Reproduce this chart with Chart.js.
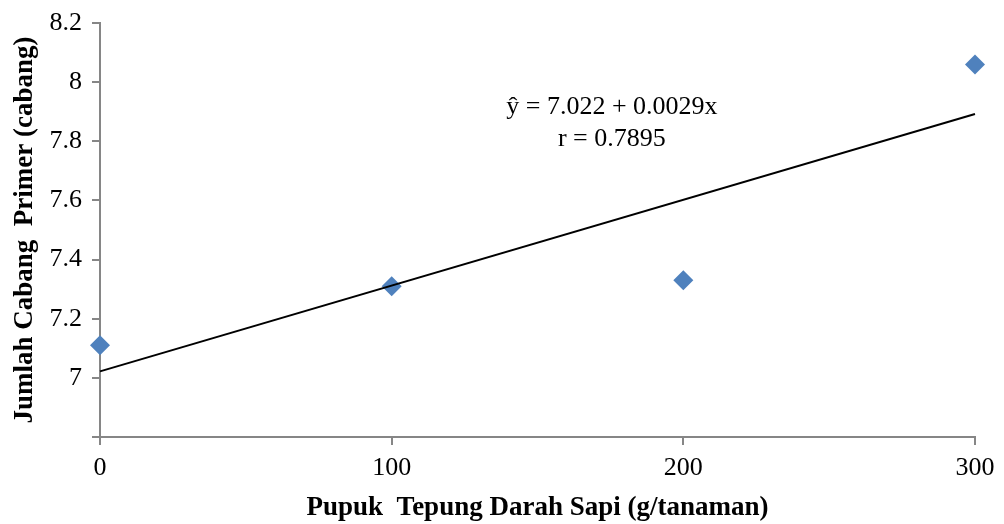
<!DOCTYPE html>
<html>
<head>
    <meta charset="utf-8">
    <title>Pupuk Tepung Darah Sapi</title>
    <script src="https://cdn.jsdelivr.net/npm/chart.js@4.4.0/dist/chart.umd.min.js"></script>
    <style>
        html, body { margin: 0; padding: 0; background: #fff; }
        #wrap { width: 1004px; height: 524px; }
    </style>
</head>
<body>
<div id="wrap"><canvas id="chart" width="1004" height="524"></canvas></div>
<script>
    // dosis pupuk (g/tanaman) dan rata-rata jumlah cabang primer
    var dosis = [0, 100, 200, 300];
    var cabang = [7.11, 7.31, 7.33, 8.06];

    // persamaan regresi
    var intercept = 7.022;
    var slope = 0.0029;
    var rValue = 0.7895;

    var yTicks = [6.8, 7, 7.2, 7.4, 7.6, 7.8, 8, 8.2];

    var axisGray = '#868686';
    var serif = "'Liberation Serif', 'Times New Roman', serif";

    var points = dosis.map(function (d, i) { return { x: d, y: cabang[i] }; });
    var trend = [0, 300].map(function (d) { return { x: d, y: intercept + slope * d }; });

    // teks persamaan di atas garis regresi
    var equationText = {
        id: 'equationText',
        afterDatasetsDraw: function (chart) {
            var ctx = chart.ctx;
            var xs = chart.scales.x, ys = chart.scales.y;
            var cx = xs.getPixelForValue(175.5);
            var cy = ys.getPixelForValue(7.914);
            ctx.save();
            ctx.fillStyle = '#000';
            ctx.font = '26px ' + serif;
            ctx.textAlign = 'center';
            ctx.textBaseline = 'middle';
            ctx.fillText('ŷ = ' + intercept.toFixed(3) + ' + ' + slope + 'x', cx, cy);
            ctx.fillText('r = ' + rValue, cx, cy + 32);
            ctx.restore();
        }
    };

    new Chart(document.getElementById('chart'), {
        type: 'scatter',
        data: {
            datasets: [{
                type: 'line',
                data: trend,
                borderColor: '#000',
                borderWidth: 2,
                pointRadius: 0,
                fill: false,
                clip: false
            }, {
                data: points,
                pointStyle: 'rectRot',
                pointRadius: 10,
                pointHoverRadius: 10,
                backgroundColor: '#4F81BD',
                borderColor: '#4F81BD',
                borderWidth: 0,
                clip: false
            }]
        },
        options: {
            responsive: false,
            animation: false,
            layout: { padding: { top: 20, right: 29, left: 0, bottom: 0 } },
            plugins: {
                legend: { display: false },
                tooltip: { enabled: false }
            },
            scales: {
                x: {
                    type: 'linear',
                    min: 0,
                    max: 300,
                    afterFit: function (scale) { scale.height = 87; },
                    border: { color: axisGray, width: 2 },
                    grid: { drawOnChartArea: false, drawTicks: true, tickLength: 8, color: axisGray, lineWidth: 2 },
                    ticks: {
                        stepSize: 100,
                        padding: 8,
                        color: '#000',
                        font: { family: serif, size: 26 }
                    },
                    title: {
                        display: true,
                        text: 'Pupuk  Tepung Darah Sapi (g/tanaman)',
                        color: '#000',
                        padding: { top: 0, bottom: 0 },
                        font: { family: serif, size: 27, weight: 'bold' }
                    }
                },
                y: {
                    min: 6.8,
                    max: 8.2,
                    afterFit: function (scale) { scale.width = 100; },
                    afterBuildTicks: function (scale) {
                        scale.ticks = yTicks.map(function (v) { return { value: v }; });
                    },
                    border: { color: axisGray, width: 2 },
                    grid: { drawOnChartArea: false, drawTicks: true, tickLength: 8, color: axisGray, lineWidth: 2 },
                    ticks: {
                        padding: 10,
                        color: '#000',
                        font: { family: serif, size: 26, lineHeight: 1 },
                        callback: function (v) {
                            if (Math.abs(v - 6.8) < 1e-6) return '';
                            return Math.round(v * 10) / 10;
                        }
                    },
                    title: {
                        display: true,
                        text: 'Jumlah Cabang  Primer (cabang)',
                        color: '#000',
                        padding: { top: 9, bottom: 0 },
                        font: { family: serif, size: 27, weight: 'bold' }
                    }
                }
            }
        },
        plugins: [equationText]
    });
</script>
</body>
</html>
